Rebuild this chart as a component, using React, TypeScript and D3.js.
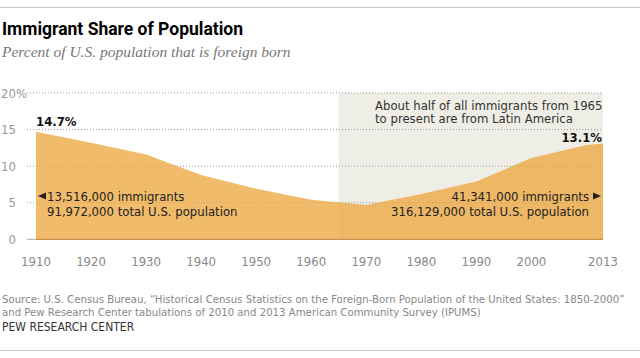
import React from "react";
import * as d3 from "d3";

const years = [1910, 1920, 1930, 1940, 1950, 1960, 1970, 1980, 1990, 2000, 2010, 2013];
const shares = [14.7, 13.2, 11.6, 8.8, 6.9, 5.4, 4.7, 6.2, 7.9, 11.1, 12.9, 13.1];
const xTickYears = [1910, 1920, 1930, 1940, 1950, 1960, 1970, 1980, 1990, 2000, 2013];
const yTicks = [0, 5, 10, 15, 20];
const shadeStart = 1965;

const W = 640;
const H = 358;
const NARROW = "'Liberation Sans Narrow', 'DejaVu Sans Condensed', Roboto, sans-serif";

export default function App() {
  const x = d3.scaleLinear().domain([1910, 2013]).range([36, 603]);
  const y = d3.scaleLinear().domain([0, 20]).range([239.3, 93]);
  const pts = years.map((yr, i) => ({ yr, v: shares[i] }));
  const area = d3
    .area<{ yr: number; v: number }>()
    .x((d) => x(d.yr))
    .y0(y(0))
    .y1((d) => y(d.v));

  return (
    <svg
      width={W}
      height={H}
      style={{ position: "absolute", left: 0, top: 0, background: "#fff" }}
    >
      <line x1={0} x2={W} y1={7.5} y2={7.5} stroke="#c8c8c8" strokeWidth={1} />
      <text x={2} y={35} fontFamily="Roboto, sans-serif" fontWeight={700} fontSize={17.5} fill="#000">
        Immigrant Share of Population
      </text>
      <text x={2} y={57} fontFamily="'Liberation Serif', 'DejaVu Serif', serif" fontStyle="italic" fontSize={15.5} fill="#777">
        Percent of U.S. population that is foreign born
      </text>

      {/* shaded period */}
      <rect x={x(shadeStart)} y={y(20)} width={x(2013) - x(shadeStart)} height={y(0) - y(20)} fill="#efeee6" />

      {/* gridlines */}
      {yTicks.filter((t) => t > 0).map((t) => (
        <line key={t} x1={27} x2={603} y1={y(t)} y2={y(t)} stroke="#999" strokeWidth={1} strokeDasharray="1,2" />
      ))}
      {yTicks.map((t) => (
        <g key={"l" + t}>
          <text x={16} y={y(t) + 4.5} textAnchor="end" fontFamily={NARROW} fontSize={13} fill="#999">
            {t}
          </text>
          {t === 20 && (
            <text x={16} y={y(t) + 4.5} fontFamily={NARROW} fontSize={13} fill="#999">%</text>
          )}
        </g>
      ))}

      <path d={area(pts) || ""} fill="#eca43b" fillOpacity={0.75} />
      <line x1={27} x2={36} y1={y(0)} y2={y(0)} stroke="#aaa" strokeWidth={1} />
      <line x1={36} x2={603} y1={y(0)} y2={y(0)} stroke="#c98f50" strokeWidth={1.2} />

      {xTickYears.map((t) => (
        <text key={t} x={x(t)} y={266} textAnchor="middle" fontFamily={NARROW} fontSize={13} fill="#888">
          {t}
        </text>
      ))}

      <text x={36} y={126} fontFamily={NARROW} fontWeight={700} fontSize={13} fill="#111">14.7%</text>
      <text x={602} y={141.5} textAnchor="end" fontFamily={NARROW} fontWeight={700} fontSize={13} fill="#111">13.1%</text>

      <text fontFamily={NARROW} fontSize={13} fill="#333">
        <tspan x={375} y={109.5}>About half of all immigrants from 1965</tspan>
        <tspan x={375} y={123}>to present are from Latin America</tspan>
      </text>

      <path d={`M38,196 L46,192.5 L46,199.5 Z`} fill="#222" />
      <text fontFamily={NARROW} fontSize={13} fill="#222">
        <tspan x={47} y={200.5}>13,516,000 immigrants</tspan>
        <tspan x={47} y={216}>91,972,000 total U.S. population</tspan>
      </text>

      <path d={`M601,196 L593,192.5 L593,199.5 Z`} fill="#222" />
      <text fontFamily={NARROW} fontSize={13} fill="#222" textAnchor="end">
        <tspan x={589} y={200.5}>41,341,000 immigrants</tspan>
        <tspan x={589} y={216}>316,129,000 total U.S. population</tspan>
      </text>

      <text fontFamily={NARROW} fontSize={11.3} fill="#888">
        <tspan x={2} y={303}>Source: U.S. Census Bureau, “Historical Census Statistics on the Foreign-Born Population of the United States: 1850-2000”</tspan>
        <tspan x={2} y={316}>and Pew Research Center tabulations of 2010 and 2013 American Community Survey (IPUMS)</tspan>
      </text>
      <text x={2} y={331} fontFamily={NARROW} fontSize={12} fill="#333">PEW RESEARCH CENTER</text>
      <line x1={0} x2={W} y1={350.5} y2={350.5} stroke="#c8c8c8" strokeWidth={1} />
    </svg>
  );
}
